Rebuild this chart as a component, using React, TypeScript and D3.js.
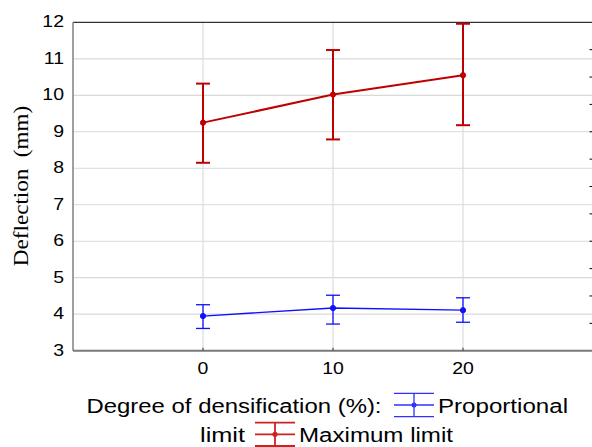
import React from "react";
import * as d3 from "d3";

const categories = [0, 10, 20];
const xTicks = [0, 10, 20];
const yTicks = [3, 4, 5, 6, 7, 8, 9, 10, 11, 12];

const propMean = [3.95, 4.17, 4.11];
const propLow = [3.61, 3.73, 3.78];
const propHigh = [4.26, 4.52, 4.45];

const maxMean = [9.25, 10.02, 10.55];
const maxLow = [8.15, 8.79, 9.18];
const maxHigh = [10.32, 11.24, 11.96];

const W = 592;
const H = 447;
const left = 73;
const right = 593;
const top = 22.3;
const bottom = 350.7;

export default function App() {
  const x = d3.scaleLinear().domain([-10, 30]).range([left, right]);
  const y = d3.scaleLinear().domain([3, 12]).range([bottom, top]);
  const rightScale = d3.scaleLinear().domain([0, 12]).range([bottom, top]);
  const line = d3
    .line<number>()
    .x((_, i) => x(categories[i]))
    .y((d) => y(d));

  const series = [
    { mean: propMean, low: propLow, high: propHigh, color: "#1010ff", lw: 1.3, ew: 1.3, r: 2.6 },
    { mean: maxMean, low: maxLow, high: maxHigh, color: "#c00000", lw: 2, ew: 2, r: 2.6 },
  ];
  const capHalf = 7;

  const legendSymbol = (cx: number, cy: number, color: string, w: number, dotR: number) => (
    <g>
      <line x1={cx - 20} x2={cx + 20} y1={cy - 11.7} y2={cy - 11.7} stroke={color} strokeWidth={w} />
      <line x1={cx - 20} x2={cx + 20} y1={cy} y2={cy} stroke={color} strokeWidth={w} />
      <line x1={cx - 20} x2={cx + 20} y1={cy + 11.7} y2={cy + 11.7} stroke={color} strokeWidth={w} />
      <line x1={cx} x2={cx} y1={cy - 11.7} y2={cy + 11.7} stroke={color} strokeWidth={w} />
      <circle cx={cx} cy={cy} r={dotR} fill={color} />
    </g>
  );

  const tickText = (key: string, tx: number, ty: number, anchor: string, label: string, dy?: string) => (
    <g key={key} transform={`translate(${tx},${ty}) scale(1.18,1)`}>
      <text x={0} y={0} dy={dy} textAnchor={anchor} fontSize={16.5} fill="#000">
        {label}
      </text>
    </g>
  );

  return (
    <svg
      width={W}
      height={H}
      style={{ position: "absolute", left: 0, top: 0, background: "#fff" }}
      fontFamily="'Liberation Sans', Arial, sans-serif"
    >
      <rect x={0} y={0} width={W} height={H} fill="#fff" />
      {/* grid */}
      {yTicks.filter((t) => t > 3 && t < 12).map((t) => (
        <line key={"gy" + t} x1={left} x2={W} y1={y(t)} y2={y(t)} stroke="#d9d9d9" strokeWidth={1.2} />
      ))}
      {xTicks.map((t) => (
        <line key={"gx" + t} x1={x(t)} x2={x(t)} y1={top} y2={bottom} stroke="#dcdcdc" strokeWidth={1.2} />
      ))}
      {/* top border */}
      <line x1={left} x2={W} y1={top} y2={top} stroke="#000" strokeWidth={1} />
      {/* right ticks */}
      {d3.range(1, 12).map((k) => (
        <line key={"rt" + k} x1={W - 2.5} x2={W} y1={rightScale(k)} y2={rightScale(k)} stroke="#000" strokeWidth={1} />
      ))}
      {/* axes */}
      <line x1={left} x2={left} y1={top} y2={bottom} stroke="#808080" strokeWidth={1.5} />
      <line x1={left} x2={W} y1={bottom} y2={bottom} stroke="#7a7a7a" strokeWidth={2} />
      {xTicks.map((t) => (
        <line key={"xt" + t} x1={x(t)} x2={x(t)} y1={bottom - 3} y2={bottom} stroke="#333" strokeWidth={1} />
      ))}
      {/* y tick labels */}
      {yTicks.map((t) => tickText("yl" + t, 64, y(t), "end", String(t), "0.3em"))}
      {/* x tick labels */}
      {xTicks.map((t) => tickText("xl" + t, x(t), 373.5, "middle", String(t)))}
      {/* y title */}
      <g transform={`translate(28,186) rotate(-90) scale(1.1,1)`}>
        <text
          x={0}
          y={0}
          textAnchor="middle"
          fontFamily="'Liberation Serif', 'Times New Roman', serif"
          fontSize={21}
          fill="#000"
        >
          Deflection{"\u00a0\u00a0"}(mm)
        </text>
      </g>
      {/* series */}
      {series.map((s, si) => (
        <g key={"s" + si}>
          <path d={line(s.mean) || ""} fill="none" stroke={s.color} strokeWidth={s.lw} />
          {categories.map((c, i) => (
            <g key={"e" + i}>
              <line x1={x(c)} x2={x(c)} y1={y(s.low[i])} y2={y(s.high[i])} stroke={s.color} strokeWidth={s.ew} />
              <line x1={x(c) - capHalf} x2={x(c) + capHalf} y1={y(s.low[i])} y2={y(s.low[i])} stroke={s.color} strokeWidth={s.ew} />
              <line x1={x(c) - capHalf} x2={x(c) + capHalf} y1={y(s.high[i])} y2={y(s.high[i])} stroke={s.color} strokeWidth={s.ew} />
              <circle cx={x(c)} cy={y(s.mean[i])} r={s.r} fill={s.color} stroke={s.color} strokeWidth={1} />
            </g>
          ))}
        </g>
      ))}
      {/* legend */}
      <text x={86.5} y={413} fontSize={20} fill="#000" textLength={295} lengthAdjust="spacingAndGlyphs">
        Degree of densification (%):
      </text>
      {legendSymbol(414, 405, "#3030ff", 1.3, 2.5)}
      <text x={438} y={413} fontSize={20} fill="#000" textLength={130} lengthAdjust="spacingAndGlyphs">
        Proportional
      </text>
      <text x={200} y={442} fontSize={20} fill="#000" textLength={45} lengthAdjust="spacingAndGlyphs">
        limit
      </text>
      {legendSymbol(275, 434.3, "#d02020", 1.8, 2.6)}
      <text x={299} y={442} fontSize={20} fill="#000" textLength={154} lengthAdjust="spacingAndGlyphs">
        Maximum limit
      </text>
    </svg>
  );
}
